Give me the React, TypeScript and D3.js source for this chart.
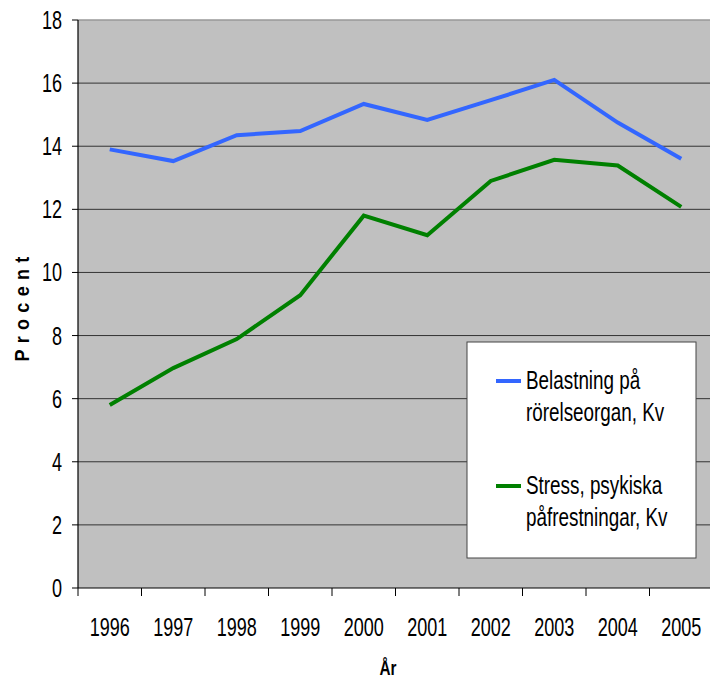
import * as d3 from 'd3';
import type { ReactNode } from 'react';

const years = ['1996', '1997', '1998', '1999', '2000', '2001', '2002', '2003', '2004', '2005'];
const belastning = [13.9, 13.53, 14.35, 14.48, 15.34, 14.83, 15.46, 16.1, 14.75, 13.6];
const stress = [5.8, 6.97, 7.89, 9.28, 11.8, 11.18, 12.9, 13.57, 13.39, 12.08];
const yTicks = [0, 2, 4, 6, 8, 10, 12, 14, 16, 18];
const seriesNames = [
	['Belastning på', 'rörelseorgan, Kv'],
	['Stress, psykiska', 'påfrestningar, Kv'],
];
const colors = ['#3366ff', '#008000'];

const width = 710,
	height = 680;
const plot = { left: 78, right: 713, top: 20, bottom: 588 };
const font = '"Liberation Sans", Arial, sans-serif';

// no narrow font installed, so squeeze Liberation Sans horizontally
function Narrow({
	x,
	y,
	size,
	anchor = 'start',
	sy = 1.12,
	children,
}: {
	x: number;
	y: number;
	size: number;
	anchor?: 'start' | 'middle' | 'end';
	sy?: number;
	children: ReactNode;
}) {
	return (
		<text transform={`translate(${x}, ${y}) scale(0.82, ${sy})`} textAnchor={anchor} fontSize={size} fill="#000">
			{children}
		</text>
	);
}

export default function App() {
	const xScale = d3.scaleBand().domain(years).range([plot.left, plot.right]);
	const yScale = d3.scaleLinear().domain([0, 18]).range([plot.bottom, plot.top]);
	const line = d3
		.line<number>()
		.x((_, i) => xScale(years[i])! + xScale.bandwidth() / 2)
		.y((d) => yScale(d));

	const series = [belastning, stress];

	return (
		<svg
			width={width}
			height={height}
			style={{ position: 'absolute', left: 0, top: 0, background: 'white' }}
			fontFamily={font}
		>
			<rect
				x={plot.left}
				y={plot.top}
				width={plot.right - plot.left}
				height={plot.bottom - plot.top}
				fill="#c0c0c0"
			/>
			<line x1={plot.left} x2={plot.right} y1={plot.top} y2={plot.top} stroke="#999" strokeWidth={1.5} />
			{/* grid + left axis */}
			{yTicks.map((t) => (
				<g key={t}>
					{t > 0 && t < 18 && (
						<line x1={plot.left} x2={plot.right} y1={yScale(t)} y2={yScale(t)} stroke="#333" strokeWidth={1} />
					)}
					<line x1={plot.left - 6} x2={plot.left} y1={yScale(t)} y2={yScale(t)} stroke="#000" />
					<Narrow x={62} y={yScale(t) + 9} size={22} anchor="end" sy={1.15}>
						{t}
					</Narrow>
				</g>
			))}
			<line x1={plot.left} x2={plot.left} y1={plot.top} y2={plot.bottom} stroke="#000" strokeWidth={1.2} />
			{/* bottom axis */}
			<line x1={plot.left} x2={plot.right} y1={plot.bottom} y2={plot.bottom} stroke="#000" strokeWidth={1.2} />
			{years.map((yr) => (
				<g key={yr}>
					<line x1={xScale(yr)!} x2={xScale(yr)!} y1={plot.bottom} y2={plot.bottom + 8} stroke="#000" />
					<Narrow x={xScale(yr)! + xScale.bandwidth() / 2} y={636} size={22} anchor="middle" sy={1.15}>
						{yr}
					</Narrow>
				</g>
			))}
			{/* lines */}
			{series.map((s, i) => (
				<path key={i} d={line(s)!} fill="none" stroke={colors[i]} strokeWidth={4} />
			))}
			{/* axis titles */}
			<text
				transform="translate(29, 306) rotate(-90) scale(0.9, 1.05)"
				textAnchor="middle"
				fontSize={20}
				fontWeight="bold"
				letterSpacing={7}
			>
				Procent
			</text>
			<text transform="translate(388, 675) scale(0.85, 1.1)" textAnchor="middle" fontSize={18} fontWeight="bold">
				År
			</text>
			{/* legend */}
			<g>
				<rect x={467} y={342} width={229} height={216} fill="#fff" stroke="#444" strokeWidth={1} />
				{seriesNames.map((name, i) => (
					<g key={i} transform={`translate(0, ${i * 105})`}>
						<line x1={496} x2={521} y1={381} y2={381} stroke={colors[i]} strokeWidth={4} />
						{name.map((ln, j) => (
							<Narrow key={j} x={526} y={389 + j * 32} size={23} sy={1.1}>
								{ln}
							</Narrow>
						))}
					</g>
				))}
			</g>
		</svg>
	);
}
